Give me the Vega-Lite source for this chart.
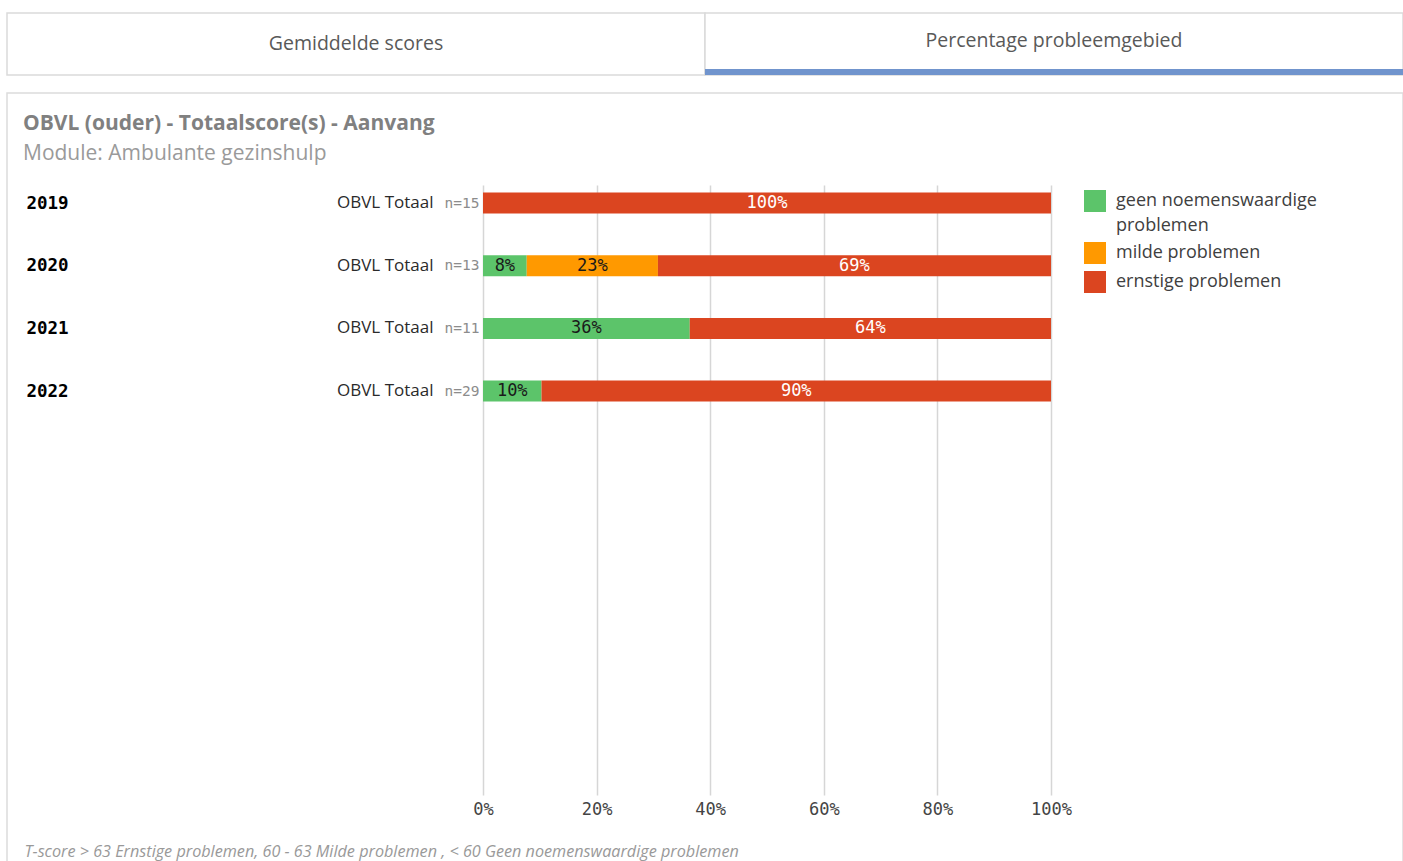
{
  "$schema": "https://vega.github.io/schema/vega-lite/v6.json",
  "padding": {"left": 6, "top": 12, "right": 0, "bottom": 0},
  "background": "white",
  "bounds": "flush",
  "spacing": 18,
  "config": {
    "font": "Open Sans",
    "style": {"guide-label": {"lineHeight": 25}}
  },
  "vconcat": [
    {
      "width": 1396,
      "height": 62,
      "view": {"stroke": null},
      "data": {"values": [
        {"tab": "Gemiddelde scores", "active": 0},
        {"tab": "Percentage probleemgebied", "active": 1}
      ]},
      "encoding": {
        "x": {"field": "tab", "type": "nominal", "sort": null, "axis": null,
              "scale": {"paddingInner": 0, "paddingOuter": 0}}
      },
      "layer": [
        {"mark": {"type": "rect", "fill": "white", "stroke": "#dadada", "strokeWidth": 1.5}},
        {"transform": [{"filter": "datum.active == 1"}],
         "mark": {"type": "rect", "color": "#7094cd", "y": 56, "y2": 62}},
        {"transform": [{"filter": "datum.active == 0"}],
         "mark": {"type": "text", "font": "Open Sans", "fontSize": 19.5, "color": "#595959"},
         "encoding": {"text": {"field": "tab"}}},
        {"transform": [{"filter": "datum.active == 1"}],
         "mark": {"type": "text", "font": "Open Sans", "fontSize": 19.5, "color": "#595959", "dy": -3},
         "encoding": {"text": {"field": "tab"}}}
      ]
    },
    {
      "width": 1396,
      "height": 775,
      "view": {"stroke": "#dcdcdc", "strokeWidth": 1.5},
      "title": {
        "text": "OBVL (ouder) - Totaalscore(s) - Aanvang",
        "subtitle": "Module: Ambulante gezinshulp",
        "anchor": "start",
        "frame": "group",
        "offset": -71,
        "dx": 16,
        "font": "Open Sans",
        "fontSize": 21,
        "fontWeight": "bold",
        "color": "#808080",
        "subtitleFont": "Open Sans",
        "subtitleFontSize": 21,
        "subtitleColor": "#9a9a9a",
        "subtitlePadding": 9
      },
      "data": {"values": [
        {"year": "2019", "n": 15, "cat": "ernstige problemen", "k": 3, "pct": 1.0},
        {"year": "2020", "n": 13, "cat": "geen noemenswaardige problemen", "k": 1, "pct": 0.077},
        {"year": "2020", "n": 13, "cat": "milde problemen", "k": 2, "pct": 0.231},
        {"year": "2020", "n": 13, "cat": "ernstige problemen", "k": 3, "pct": 0.692},
        {"year": "2021", "n": 11, "cat": "geen noemenswaardige problemen", "k": 1, "pct": 0.364},
        {"year": "2021", "n": 11, "cat": "ernstige problemen", "k": 3, "pct": 0.636},
        {"year": "2022", "n": 29, "cat": "geen noemenswaardige problemen", "k": 1, "pct": 0.103},
        {"year": "2022", "n": 29, "cat": "ernstige problemen", "k": 3, "pct": 0.897}
      ]},
      "transform": [
        {"stack": "pct", "groupby": ["year"], "sort": [{"field": "k", "order": "ascending"}], "as": ["x0", "x1"]},
        {"calculate": "(datum.x0 + datum.x1) / 2", "as": "mid"}
      ],
      "layer": [
        {
          "mark": {"type": "point", "opacity": 0},
          "encoding": {
            "x": {"field": "x0", "type": "quantitative",
                  "scale": {"domain": [0, 1], "range": [476, 1044], "nice": false, "zero": false},
                  "axis": {
                    "orient": "bottom", "offset": -72,
                    "values": [0, 0.2, 0.4, 0.6, 0.8, 1], "format": ".0%",
                    "domain": false, "ticks": false,
                    "labelPadding": 5, "labelFont": "DejaVu Sans Mono", "labelFontSize": 17,
                    "labelColor": "#444444", "labelFlush": false,
                    "grid": true, "gridColor": "#d6d6d6", "gridWidth": 1.5,
                    "title": "T-score > 63 Ernstige problemen, 60 - 63 Milde problemen , < 60 Geen noemenswaardige problemen",
                    "titleX": 17, "titleY": 55, "titleAlign": "left", "titleBaseline": "middle",
                    "titleAnchor": null,
                    "titleFont": "Open Sans", "titleFontSize": 16.2, "titleFontStyle": "italic",
                    "titleFontWeight": "normal", "titleColor": "#999999"
                  }},
            "y": {"field": "year", "type": "nominal",
                  "scale": {"type": "point", "domain": ["2019", "2020", "2021", "2022"], "range": [73, 683], "padding": 0},
                  "axis": null}
          }
        },
        {
          "mark": {"type": "bar"},
          "encoding": {
            "x": {"field": "x0", "type": "quantitative"},
            "x2": {"field": "x1"},
            "y": {"field": "year", "type": "nominal",
                  "scale": {"type": "band", "domain": ["2019", "2020", "2021", "2022"], "range": [99.5, 308.6], "paddingInner": 0.665, "paddingOuter": 0},
                  "axis": {"orient": "left", "offset": -476, "labelPadding": 50,
                           "labelExpr": "'OBVL Totaal'", "labelFont": "Open Sans", "labelFontSize": 17,
                           "labelColor": "#2a2a2a", "domain": false, "ticks": false, "title": null, "grid": false}},
            "color": {"field": "cat", "type": "nominal",
                      "scale": {"domain": ["geen noemenswaardige problemen", "milde problemen", "ernstige problemen"],
                                "range": ["#5cc46a", "#ff9900", "#db4520"]},
                      "legend": {
                        "orient": "none", "legendX": 1077, "legendY": 177, "title": null,
                        "symbolType": "square", "symbolSize": 484, "symbolStrokeWidth": 0,
                        "labelFont": "Open Sans", "labelFontSize": 18, "labelColor": "#404040",
                        "labelOffset": 10, "rowPadding": 7, "labelLimit": 400,
                        "labelExpr": "datum.label == 'geen noemenswaardige problemen' ? ['geen noemenswaardige', 'problemen'] : datum.label"
                      }}
          }
        },
        {
          "mark": {"type": "text", "font": "DejaVu Sans Mono", "fontSize": 17},
          "encoding": {
            "x": {"field": "mid", "type": "quantitative"},
            "y": {"field": "year", "type": "nominal",
                  "scale": {"type": "point", "domain": ["2019", "2020", "2021", "2022"], "range": [110, 298.1], "padding": 0},
                  "axis": null},
            "text": {"field": "pct", "type": "quantitative", "format": ".0%"},
            "color": {"condition": {"test": "datum.cat === 'ernstige problemen'", "value": "#ffffff"}, "value": "#1a1a1a"}
          }
        },
        {
          "mark": {"type": "point", "opacity": 0},
          "encoding": {
            "y": {"field": "year", "type": "nominal",
                  "scale": {"type": "point", "domain": ["2019", "2020", "2021", "2022"], "range": [110, 298.1], "padding": 0},
                  "axis": {"orient": "left", "offset": -19, "labelPadding": 0, "labelAlign": "left",
                           "labelFont": "DejaVu Sans Mono", "labelFontWeight": "bold", "labelFontSize": 17.5,
                           "labelColor": "#000000", "domain": false, "ticks": false, "title": null, "grid": false}}
          }
        },
        {
          "mark": {"type": "point", "opacity": 0},
          "encoding": {
            "y": {"field": "n", "type": "ordinal",
                  "scale": {"type": "point", "domain": [15, 13, 11, 29], "range": [110, 298.1], "padding": 0},
                  "axis": {"orient": "left", "offset": -476, "labelPadding": 4,
                           "labelExpr": "'n=' + datum.label",
                           "labelFont": "DejaVu Sans Mono", "labelFontSize": 14.5,
                           "labelColor": "#8c8c8c", "domain": false, "ticks": false, "title": null, "grid": false}}
          }
        }
      ],
      "resolve": {"scale": {"y": "independent"}, "axis": {"y": "independent"}}
    }
  ]
}
